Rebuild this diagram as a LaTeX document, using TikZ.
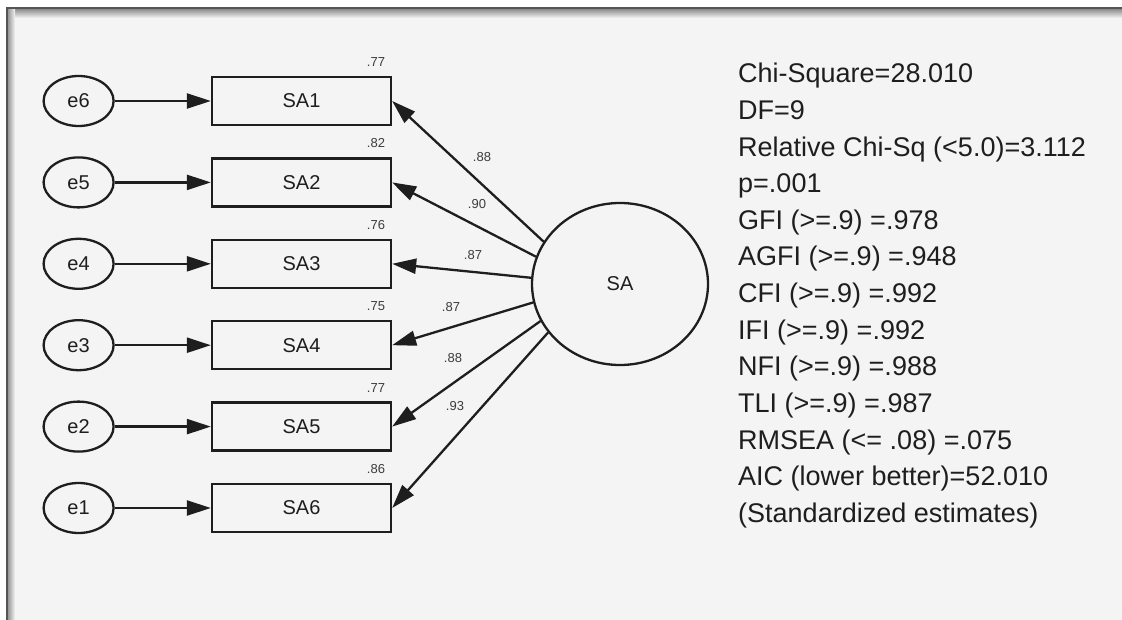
\documentclass[tikz,border=0pt]{standalone}
\usepackage{fontspec}
\setmainfont{Liberation Sans}
\usetikzlibrary{arrows.meta, positioning, shapes.geometric}
\definecolor{cink}{HTML}{1E1E1E}
\definecolor{cpanel}{HTML}{F4F4F4}
\definecolor{cedge}{HTML}{555555}
\definecolor{clabel}{HTML}{3C3C3C}

\begin{document}
\begin{tikzpicture}[x=1pt, y=1pt,
  item/.style={draw=cink, line width=2.3pt, minimum width=179pt, minimum height=48pt, inner sep=0pt, text=cink, font=\fontsize{20}{20}\selectfont},
  err/.style={draw=cink, line width=2.3pt, ellipse, minimum width=70pt, minimum height=50pt, inner sep=0pt, text=cink, font=\fontsize{20}{20}\selectfont},
  latent/.style={draw=cink, line width=2.3pt, ellipse, minimum width=176pt, minimum height=162pt, inner sep=0pt, text=cink, font=\fontsize{20}{20}\selectfont},
  est/.style={inner sep=0pt, text=clabel, font=\fontsize{13}{13}\selectfont},
  fitline/.style={inner sep=0pt, text=cink, font=\fontsize{27}{30}\selectfont},
  resid/.style={draw=cink, line width=2.3pt, -{Triangle[length=24pt, width=15pt]}},
  load/.style={draw=cink, line width=2.3pt, -{Triangle[length=24pt, width=15pt]}}
]
  \useasboundingbox (0,0) rectangle (1122,-620);
  % panel with shadowed top and left edges
  \fill[white] (0,0) rectangle (1122,-620);
  \fill[cpanel] (7,-8) rectangle (1122,-620);
  \shade[top color=black!45, bottom color=cpanel] (7,-9) rectangle (1122,-18);
  \shade[left color=black!45, right color=cpanel] (7,-9) rectangle (15,-620);
  \draw[cedge, line width=2pt] (7,-620) -- (7,-8) -- (1122,-8);

  % latent factor
  \node[latent] (SA) at (620,-284) {SA};

  % indicators, residuals and loadings
  \foreach \i/\r/\ang in {1/.77/151, 2/.82/162, 3/.76/176, 4/.75/192, 5/.77/205, 6/.86/214}{
    \pgfmathsetmacro{\yy}{-101-81.4*(\i-1)}
    \pgfmathtruncatemacro{\e}{7-\i}
    \node[item] (SA\i) at (301.5,\yy) {SA\i};
    \node[err] (e\e) at (78.6,\yy) {e\e};
    \node[est] (r\i) at (376,\yy+39) {\r};
    \draw[resid] (e\e) -- (SA\i);
    \draw[load] (SA.\ang) -- (SA\i.east);
  }

  % standardized loadings
  \foreach \i/\v/\px/\py in {1/.88/482/157, 2/.90/477/204, 3/.87/473/255, 4/.87/451/307, 5/.88/453/358, 6/.93/455/406}{
    \node[est] (b\i) at (\px,-\py) {\v};
  }

  % fit indices
  \foreach \t [count=\k from 0] in {Chi-Square=28.010, DF=9, Relative Chi-Sq (<5.0)=3.112, p=.001, GFI (>=.9) =.978, AGFI (>=.9) =.948, CFI (>=.9) =.992, IFI (>=.9) =.992, NFI (>=.9) =.988, TLI (>=.9) =.987, RMSEA (<= .08) =.075, AIC (lower better)=52.010, {(Standardized estimates)}}{
    \node[fitline, anchor=base west] (fit\k) at (738,-83-36.6*\k) {\t};
  }
\end{tikzpicture}
\end{document}
